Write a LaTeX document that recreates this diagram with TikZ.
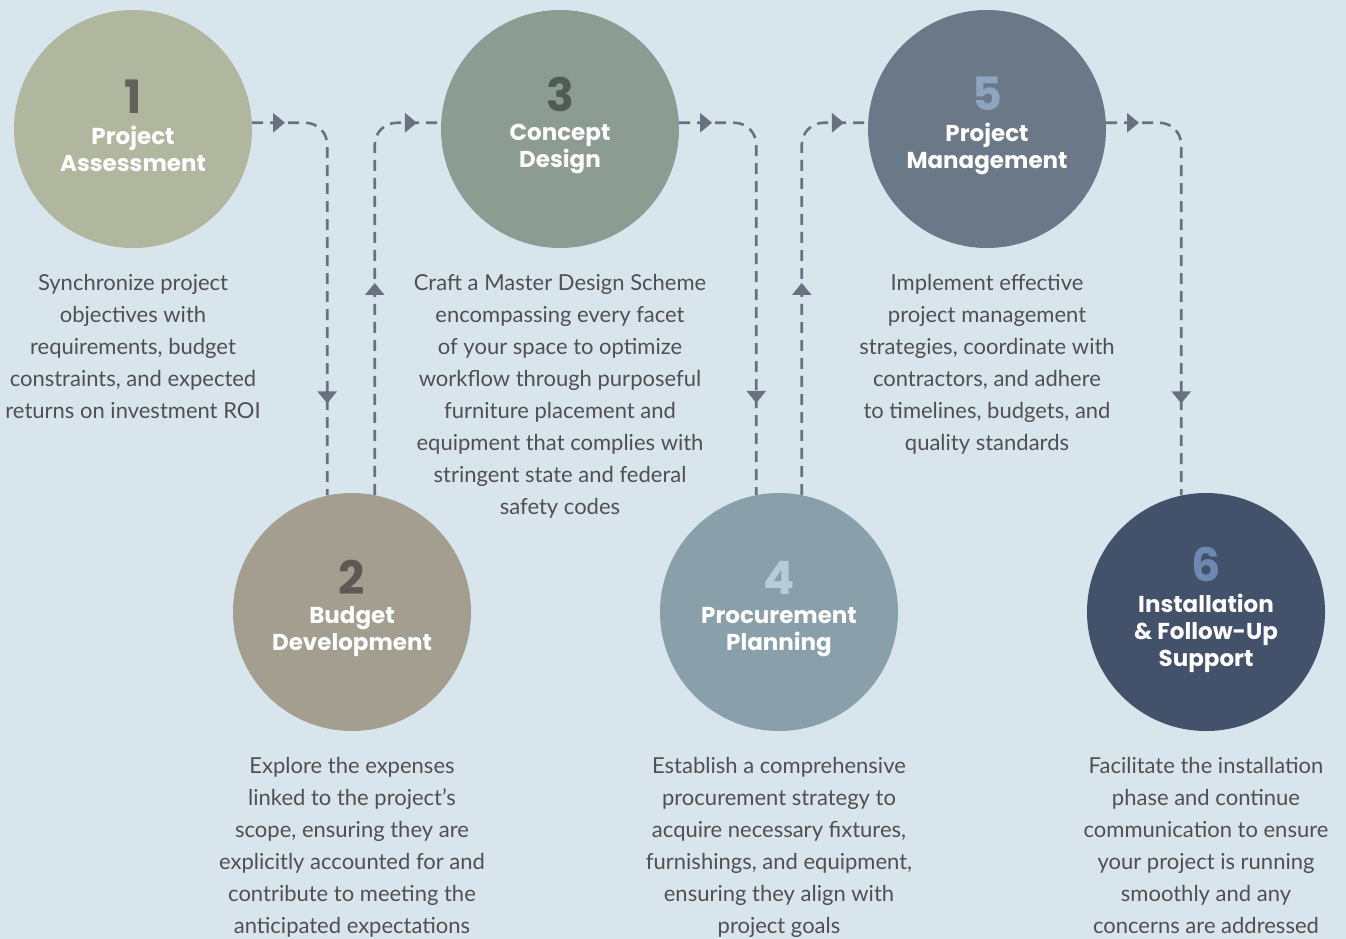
\documentclass[tikz,border=0pt]{standalone}
\usepackage{fontspec}
\setmainfont{Lato}
\newfontfamily\headfont{Poppins}
\usetikzlibrary{positioning,arrows.meta,decorations.markings}
\definecolor{bgc}{HTML}{D9E5ED}
\definecolor{arr}{HTML}{67717F}
\definecolor{txt}{HTML}{505050}
\definecolor{f1}{HTML}{B1B69F}
\definecolor{f2}{HTML}{A39E90}
\definecolor{f3}{HTML}{8C9C93}
\definecolor{f4}{HTML}{89A0AB}
\definecolor{f5}{HTML}{6A7888}
\definecolor{f6}{HTML}{44516B}
\definecolor{n1}{HTML}{62625A}
\definecolor{n2}{HTML}{5B5A52}
\definecolor{n3}{HTML}{4F5C56}
\definecolor{n4}{HTML}{B8CBD8}
\definecolor{n5}{HTML}{8EA4BF}
\definecolor{n6}{HTML}{6E89B1}
\tikzset{
  stage/.style={circle, minimum size=238pt, inner sep=0pt},
  title/.style={text=white, align=center, inner sep=0pt,
    font=\headfont\bfseries\fontsize{23}{27}\selectfont},
  num/.style={inner sep=0pt, font=\headfont\bfseries\fontsize{46}{46}\selectfont},
  desc/.style={text=txt, align=center, inner sep=0pt,
    font=\fontsize{22}{32}\selectfont},
  link/.style={draw=arr, color=arr, line width=2.6pt,
    dash pattern=on 11pt off 7pt, rounded corners=22pt},
  tips/.style 2 args={postaction={decorate}, decoration={markings,
    mark=at position #1 with {\arrow{Triangle[length=12pt,width=19pt]}},
    mark=at position #2 with {\arrow{Triangle[length=12pt,width=19pt]}}}},
}
\begin{document}
\begin{tikzpicture}[x=1pt,y=-1pt]
  \fill[bgc] (0,0) rectangle (1346,939);
  \useasboundingbox (0,0) rectangle (1346,939);

  \node[stage, fill=f1] (c1) at (133,129) {};
  \node[stage, fill=f2] (c2) at (352,612) {};
  \node[stage, fill=f3] (c3) at (560,129) {};
  \node[stage, fill=f4] (c4) at (779,612) {};
  \node[stage, fill=f5] (c5) at (987,129) {};
  \node[stage, fill=f6] (c6) at (1206,612) {};

  \node[title] (t1) at ([yshift=-20pt]c1.center) {Project\\Assessment};
  \node[title] (t2) at ([yshift=-20pt]c2.center) {Budget\\Development};
  \node[title] (t3) at ([yshift=-20pt]c3.center) {Concept\\Design};
  \node[title] (t4) at ([yshift=-20pt]c4.center) {Procurement\\Planning};
  \node[title] (t5) at ([yshift=-20pt]c5.center) {Project\\Management};
  \node[title] (t6) at ([yshift=-21pt]c6.center) {Installation\\\& Follow-Up\\Support};

  \node[num, text=n1, above=12pt of t1] (m1) {1};
  \node[num, text=n2, above=12pt of t2] (m2) {2};
  \node[num, text=n3, above=12pt of t3] (m3) {3};
  \node[num, text=n4, above=12pt of t4] (m4) {4};
  \node[num, text=n5, above=12pt of t5] (m5) {5};
  \node[num, text=n6, above=12pt of t6] (m6) {6};

  \node[desc, below=26pt of c1] (d1) {Synchronize project\\objectives with\\requirements, budget\\constraints, and expected\\returns on investment ROI};
  \node[desc, below=26pt of c2] (d2) {Explore the expenses\\linked to the project’s\\scope, ensuring they are\\explicitly accounted for and\\contribute to meeting the\\anticipated expectations};
  \node[desc, below=26pt of c3] (d3) {Craft a Master Design Scheme\\encompassing every facet\\of your space to optimize\\workflow through purposeful\\furniture placement and\\equipment that complies with\\stringent state and federal\\safety codes};
  \node[desc, below=26pt of c4] (d4) {Establish a comprehensive\\procurement strategy to\\acquire necessary fixtures,\\furnishings, and equipment,\\ensuring they align with\\project goals};
  \node[desc, below=26pt of c5] (d5) {Implement effective\\project management\\strategies, coordinate with\\contractors, and adhere\\to timelines, budgets, and\\quality standards};
  \node[desc, below=26pt of c6] (d6) {Facilitate the installation\\phase and continue\\communication to ensure\\your project is running\\smoothly and any\\concerns are addressed};

  \draw[link, tips={33pt}{-92pt}] (c1.3) -| (c2.102);
  \draw[link, tips={212pt}{-24pt}] (c2.79) |- (c3.177);
  \draw[link, tips={33pt}{-92pt}] (c3.3) -| (c4.101);
  \draw[link, tips={212pt}{-24pt}] (c4.79) |- (c5.177);
  \draw[link, tips={33pt}{-92pt}] (c5.3) -| (c6.102);
\end{tikzpicture}
\end{document}
